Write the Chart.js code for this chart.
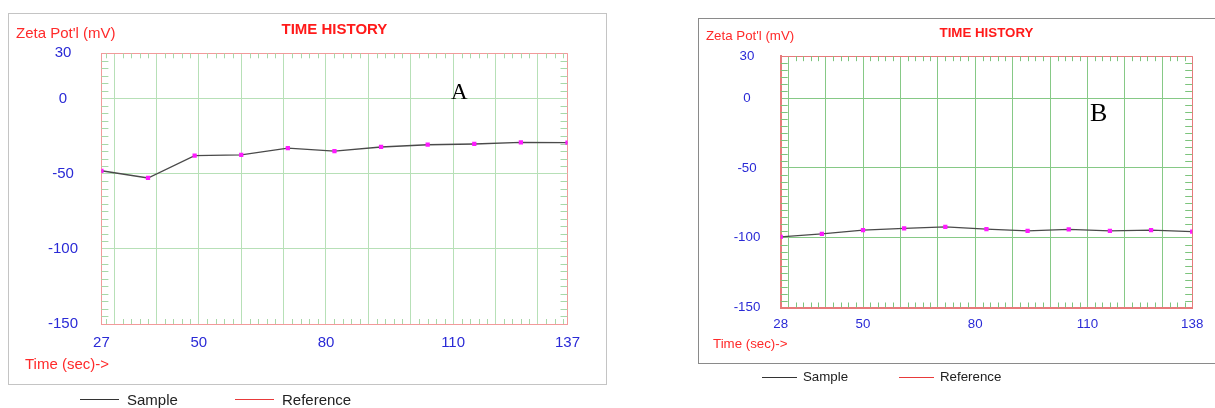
<!DOCTYPE html>
<html><head><meta charset="utf-8">
<script src="https://cdn.jsdelivr.net/npm/chart.js@4.4.1/dist/chart.umd.min.js"></script>
<style>
html,body{margin:0;padding:0;background:#fff;overflow:hidden;width:1215px;height:408px;}
.box{position:absolute;box-sizing:border-box;}
canvas{position:absolute;}
.t{position:absolute;white-space:nowrap;line-height:1;transform:translateY(-50%);font-family:"Liberation Sans",Arial,sans-serif;}
.red{color:#ff2a2a;}
.dark{color:#222;}
.ln{position:absolute;height:1px;}
</style></head><body>
<div class="box" style="left:8px;top:13px;width:599px;height:372px;border:1px solid #c4c4c4;"></div>
<div class="box" style="left:698px;top:18px;width:530px;height:346px;border:1px solid #8a8a8a;"></div>
<div style="position:absolute;left:8px;top:13px;width:598px;height:371px;"><canvas id="cA"></canvas></div>
<div style="position:absolute;left:698px;top:18px;width:517px;height:345px;"><canvas id="cB"></canvas></div>

<div class="t red" style="left:16px;top:32px;font-size:15px;">Zeta Pot'l (mV)</div>
<div class="t red" style="left:25px;top:363px;font-size:15px;">Time (sec)-&gt;</div>
<div class="t" style="left:451px;top:91px;font-size:23px;font-family:'Liberation Serif','Times New Roman',serif;">A</div>
<div class="ln" style="left:80px;top:399px;width:39px;background:#333;"></div>
<div class="t dark" style="left:127px;top:399px;font-size:15px;">Sample</div>
<div class="ln" style="left:235px;top:399px;width:39px;background:#e83a3a;"></div>
<div class="t dark" style="left:282px;top:399px;font-size:15px;">Reference</div>

<div class="t red" style="left:706px;top:36px;font-size:13.3px;">Zeta Pot'l (mV)</div>
<div class="t red" style="left:713px;top:344px;font-size:13.3px;">Time (sec)-&gt;</div>
<div class="t" style="left:1090px;top:113px;font-size:26px;font-family:'Liberation Serif','Times New Roman',serif;">B</div>
<div class="ln" style="left:762px;top:377px;width:35px;background:#333;"></div>
<div class="t dark" style="left:803px;top:377px;font-size:13.3px;">Sample</div>
<div class="ln" style="left:899px;top:377px;width:35px;background:#e83a3a;"></div>
<div class="t dark" style="left:940px;top:377px;font-size:13.3px;">Reference</div>

<script>
// ---- Data ----
const timesA = [27, 38, 49, 60, 71, 82, 93, 104, 115, 126, 137];
const zetaA  = [-48.1, -52.9, -38.1, -37.6, -33.0, -35.0, -32.3, -30.8, -30.3, -29.2, -29.4];
const timesB = [28, 39, 50, 61, 72, 83, 94, 105, 116, 127, 138];
const zetaB  = [-99.4, -97.2, -94.6, -93.4, -92.2, -93.8, -95.1, -94.1, -95.1, -94.6, -95.6];
const xLabelsA = [27, 50, 80, 110, 137];
const xLabelsB = [28, 50, 80, 110, 138];
const xGridLines = [30, 40, 50, 60, 70, 80, 90, 100, 110, 120, 130];
const yLabels = [30, 0, -50, -100, -150];
const seriesNames = ['Sample', 'Reference'];
const chartTitle = 'TIME HISTORY';

const minorTicks = {
  id: 'minorTicks',
  beforeDatasetsDraw(chart, args, o) {
    const ctx = chart.ctx, xs = chart.scales.x, ys = chart.scales.y, a = chart.chartArea;
    ctx.save();
    ctx.strokeStyle = o.color; ctx.lineWidth = 1;
    ctx.beginPath();
    for (let v = Math.ceil(xs.min / o.xStep) * o.xStep; v < xs.max; v += o.xStep) {
      if (v % 10 === 0 || v <= xs.min) continue;
      const px = Math.round(xs.getPixelForValue(v)) + 0.5;
      ctx.moveTo(px, a.bottom); ctx.lineTo(px, a.bottom - o.xLen);
      ctx.moveTo(px, a.top); ctx.lineTo(px, a.top + o.xLen);
    }
    for (let v = ys.min + o.yStep; v < ys.max; v += o.yStep) {
      if (v % 50 === 0) continue;
      const py = Math.round(ys.getPixelForValue(v)) + 0.5;
      ctx.moveTo(a.left, py); ctx.lineTo(a.left + o.yLen, py);
      ctx.moveTo(a.right, py); ctx.lineTo(a.right - o.yLen, py);
    }
    ctx.stroke();
    ctx.restore();
  }
};

function makeChart(id, times, vals, xLabels, g) {
  const xMin = xLabels[0], xMax = xLabels[xLabels.length - 1];
  const font = {family: "'Liberation Sans', Arial, sans-serif", size: g.fs};
  return new Chart(document.getElementById(id), {
    type: 'line',
    data: {
      datasets: [
        {label: seriesNames[0], data: times.map((t, i) => ({x: t, y: vals[i]})),
         borderColor: '#4a4a4a', borderWidth: 1.3, tension: 0,
         pointStyle: 'rect', pointRadius: 3, pointBackgroundColor: '#ff1aff', pointBorderColor: '#ff1aff', pointBorderWidth: 0},
        {label: seriesNames[1], data: [], borderColor: '#e83a3a', borderWidth: 1.2}
      ]
    },
    options: {
      responsive: true, maintainAspectRatio: false, animation: false,
      layout: {padding: {left: 0, top: 0, right: g.padR, bottom: 0}},
      plugins: {
        legend: {display: false}, tooltip: {enabled: false},
        title: {display: true, text: chartTitle, color: '#ff1a1a', fullSize: false,
          font: {family: font.family, size: g.fs, weight: 'bold'}, padding: {top: g.tPadT, bottom: g.tPadB}},
        minorTicks: {xStep: 2, yStep: 5, xLen: 5, yLen: 7, color: g.minor}
      },
      scales: {
        x: {
          type: 'linear', min: xMin, max: xMax,
          afterBuildTicks: s => { s.ticks = [xMin, ...xGridLines, xMax].map(v => ({value: v})); },
          afterFit: s => { s.height = g.xH; },
          ticks: {autoSkip: false, maxRotation: 0, color: '#2a2ad6', font: font, padding: g.xPad,
            callback: v => xLabels.includes(v) ? String(v) : ''},
          grid: {drawTicks: false, lineWidth: g.gw,
            color: c => (c.tick && (c.tick.value === xMin || c.tick.value === xMax)) ? g.frame : g.grid},
          border: {color: g.frame, width: g.bw}
        },
        y: {
          type: 'linear', min: -150, max: 30,
          afterBuildTicks: s => { s.ticks = yLabels.slice().reverse().map(v => ({value: v})); },
          afterFit: s => { s.width = g.yW; },
          ticks: {autoSkip: false, color: '#2a2ad6', font: font, padding: g.yPad, crossAlign: 'center',
            callback: v => String(v)},
          grid: {drawTicks: false, lineWidth: g.gw,
            color: c => (c.tick && (c.tick.value === 30 || c.tick.value === -150)) ? g.frame : g.grid},
          border: {color: g.frame, width: g.bw}
        }
      }
    },
    plugins: [minorTicks]
  });
}

makeChart('cA', timesA, zetaA, xLabelsA,
  {fs: 15, padR: 38.5, xH: 60, yW: 93.4, xPad: 9.7, yPad: 23.4, tPadT: 7.5, tPadB: 14.8,
   grid: '#b7e0b7', frame: '#f29a9a', minor: '#a8d8a8', gw: 1, bw: 1});
makeChart('cB', timesB, zetaB, xLabelsB,
  {fs: 13.3, padR: 22.8, xH: 55.5, yW: 82.7, xPad: 9, yPad: 20.4, tPadT: 7.3, tPadB: 14.9,
   grid: '#86c986', frame: '#e77a7a', minor: '#7cc47c', gw: 1, bw: 2});
</script>
</body></html>
